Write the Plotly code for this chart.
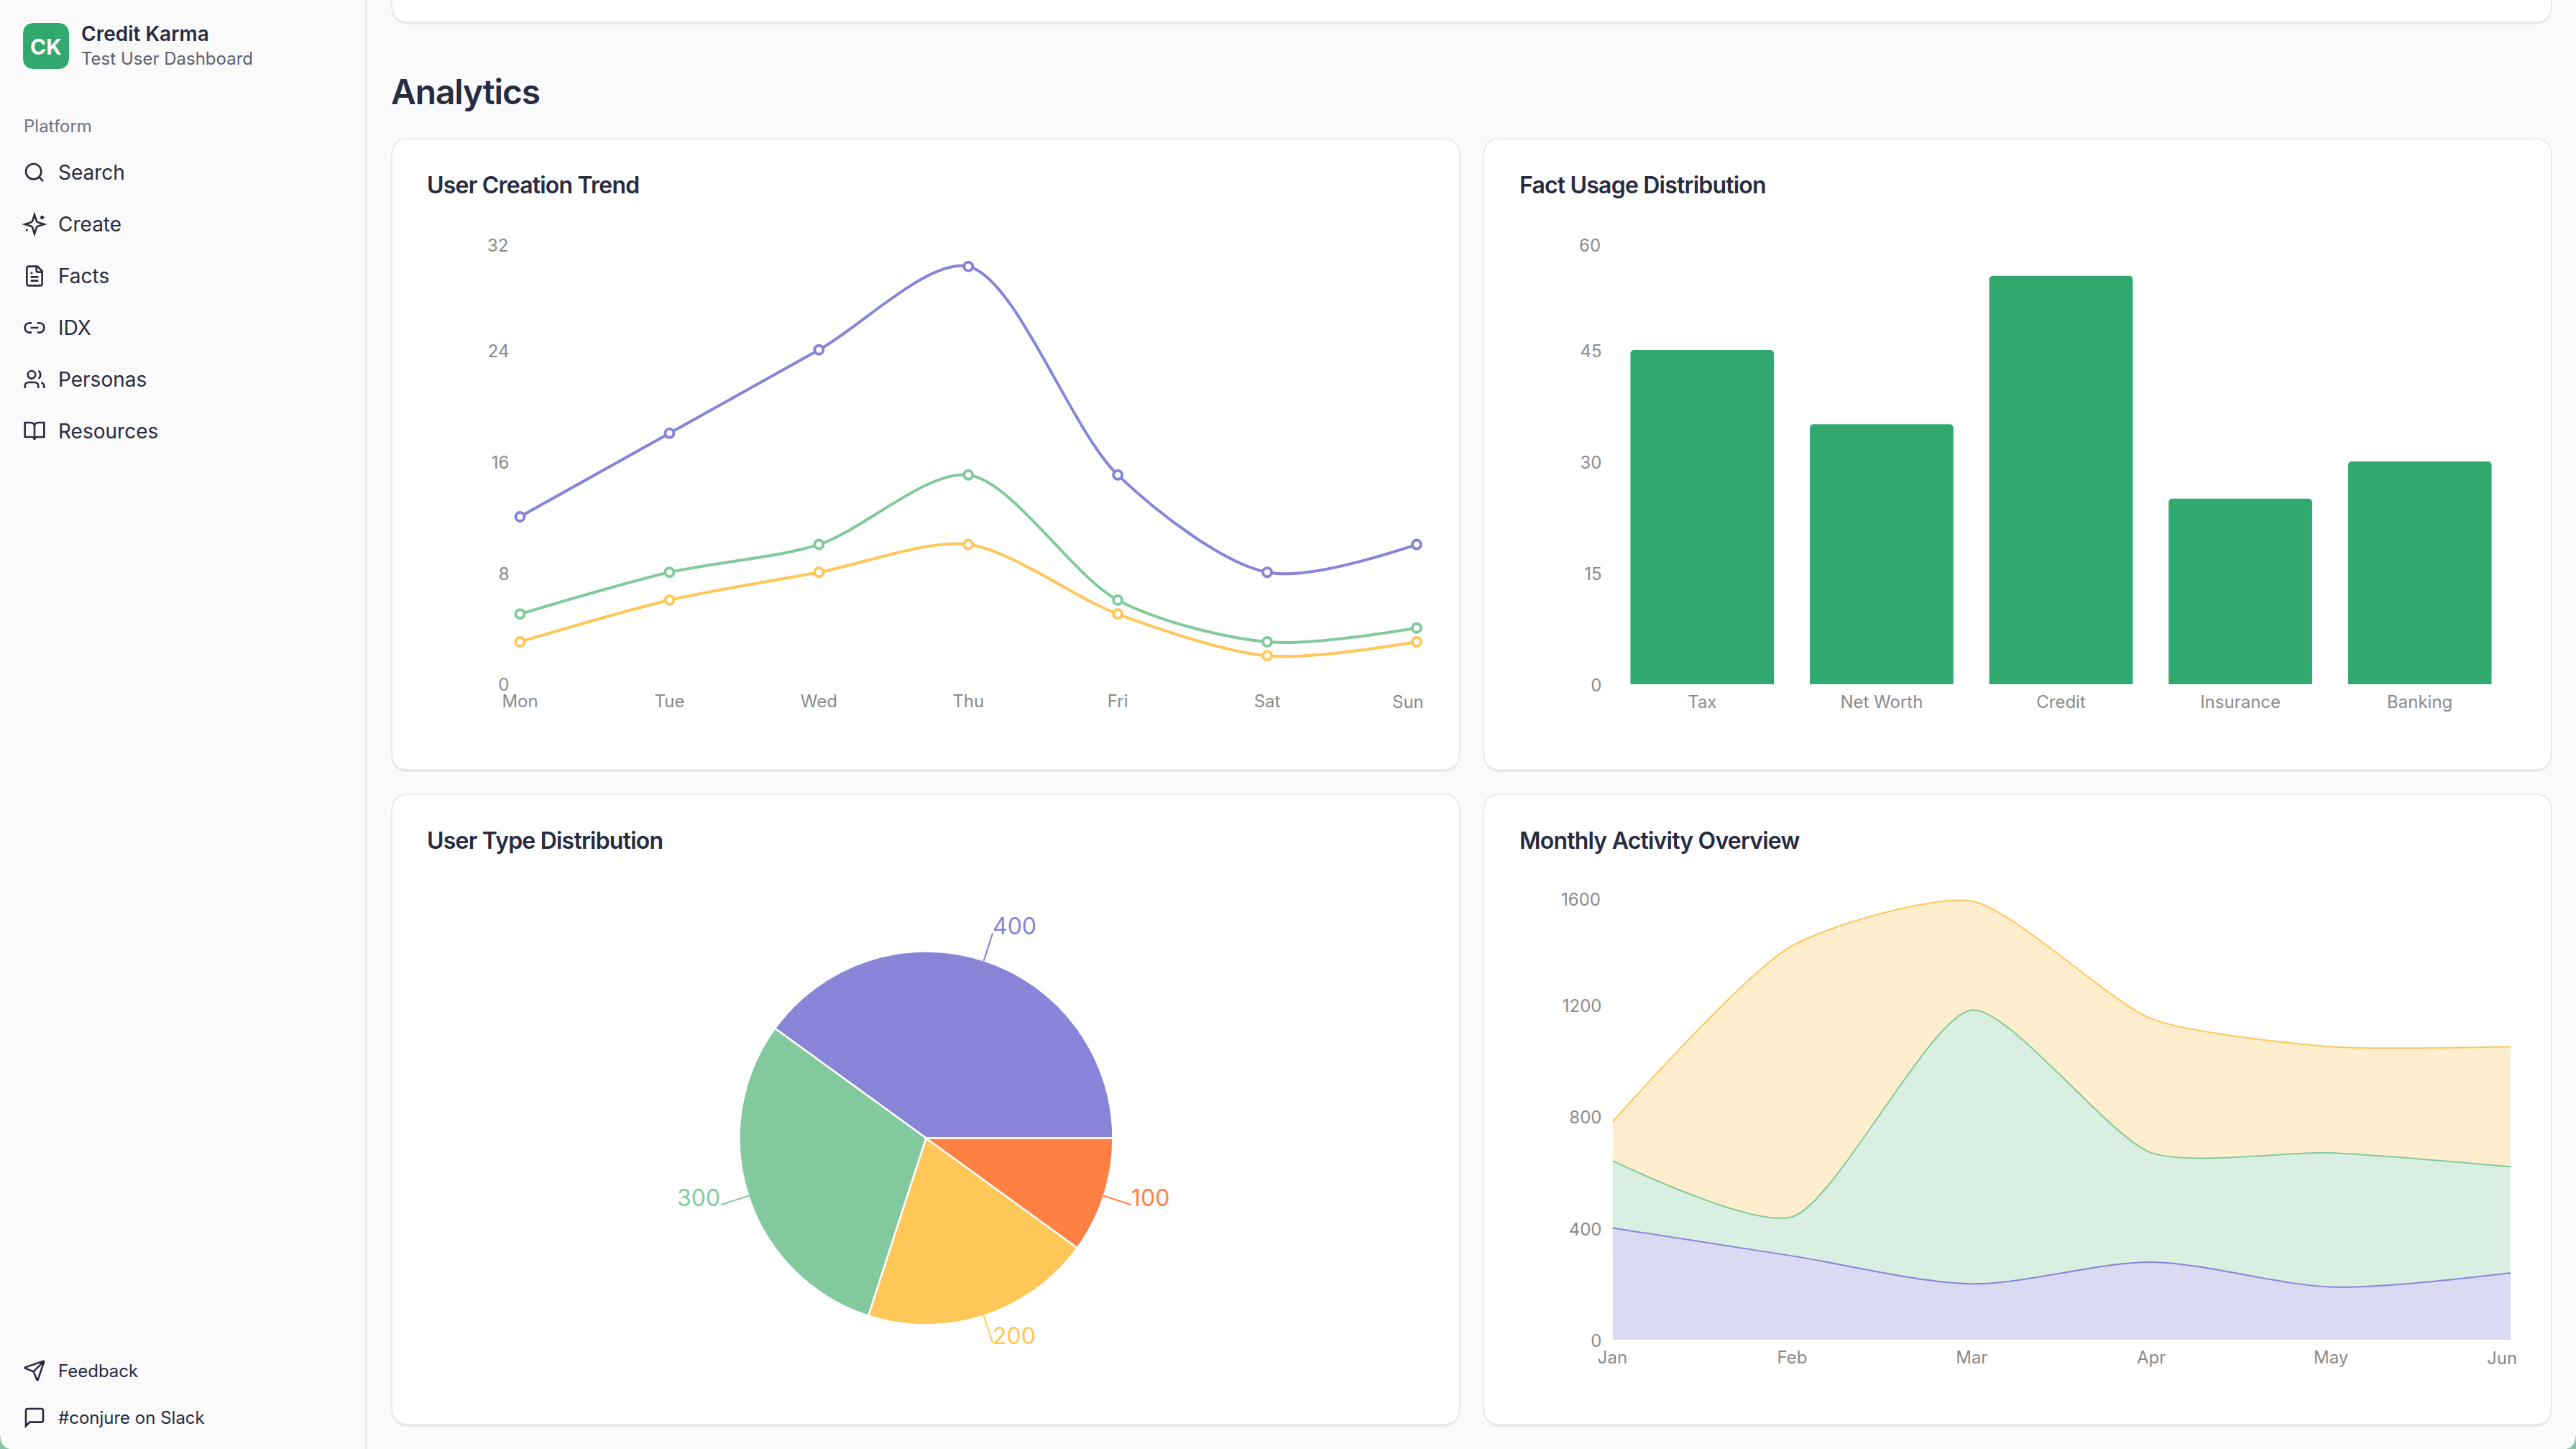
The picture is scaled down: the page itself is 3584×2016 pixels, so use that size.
import re
import math
import plotly.graph_objects as go

W, H = 3584, 2016

# ---- data ----
days = ["Mon", "Tue", "Wed", "Thu", "Fri", "Sat", "Sun"]
trend_a = [12, 18, 24, 30, 15, 8, 10]
trend_b = [5, 8, 10, 15, 6, 3, 4]
trend_c = [3, 6, 8, 10, 5, 2, 3]
trend_ticks = [0, 8, 16, 24, 32]

facts = ["Tax", "Net Worth", "Credit", "Insurance", "Banking"]
fact_values = [45, 35, 55, 25, 30]
fact_ticks = [0, 15, 30, 45, 60]

type_values = [400, 300, 200, 100]
type_colors = ["#8884d8", "#82ca9d", "#ffc658", "#ff8042"]

months = ["Jan", "Feb", "Mar", "Apr", "May", "Jun"]
area_a = [400, 300, 200, 278, 189, 239]
area_b = [240, 140, 980, 391, 480, 380]
area_c = [140, 970, 390, 480, 380, 430]
area_ticks = [0, 400, 800, 1200, 1600]

nav_items = ["Search", "Create", "Facts", "IDX", "Personas", "Resources"]
footer_items = ["Feedback", "#conjure on Slack"]

# ---- palette ----
PAGE = "#F8FAFC"
SIDE = "#FAFAFA"
INK = "#282B40"
TICK = "#8A8A8A"
GREEN = "#31A96E"
FONT = "Inter"
SMOOTH = 0.85

fx = lambda x: x / W
fy = lambda y: 1 - y / H


def to_paper(d, ox=0.0, oy=0.0, s=1.0):
    out, is_x = [], True
    for tok in re.findall(r"[MLCQZ]|-?\d+\.?\d*", d):
        if tok in "MLCQZ":
            out.append(tok)
            is_x = True
        else:
            v = float(tok)
            out.append(f"{fx(ox + v * s):.6f}" if is_x else f"{fy(oy + v * s):.6f}")
            is_x = not is_x
    s_ = ""
    for t in out:
        s_ += (t if t in "MLCQZ" else t + " ")
    return s_


def rrect(x0, y0, x1, y1, r):
    return (f"M{x0 + r} {y0}L{x1 - r} {y0}Q{x1} {y0} {x1} {y0 + r}L{x1} {y1 - r}Q{x1} {y1} {x1 - r} {y1}"
            f"L{x0 + r} {y1}Q{x0} {y1} {x0} {y1 - r}L{x0} {y0 + r}Q{x0} {y0} {x0 + r} {y0}Z")


def circ(cx, cy, r):
    k = 0.5523 * r
    return (f"M{cx + r} {cy}C{cx + r} {cy + k} {cx + k} {cy + r} {cx} {cy + r}"
            f"C{cx - k} {cy + r} {cx - r} {cy + k} {cx - r} {cy}"
            f"C{cx - r} {cy - k} {cx - k} {cy - r} {cx} {cy - r}"
            f"C{cx + k} {cy - r} {cx + r} {cy - k} {cx + r} {cy}Z")


shapes, annos = [], []


def box(x0, y0, x1, y1, r, fill, line=None, lw=0):
    shapes.append(dict(type="path", xref="paper", yref="paper", layer="below",
                       path=to_paper(rrect(x0, y0, x1, y1, r)), fillcolor=fill,
                       line=dict(color=line or fill, width=lw)))


def rect(x0, y0, x1, y1, fill):
    shapes.append(dict(type="rect", xref="paper", yref="paper", layer="below",
                       x0=fx(x0), x1=fx(x1), y0=fy(y0), y1=fy(y1), fillcolor=fill, line=dict(width=0)))


def text(t, x, y, size, color=INK, weight=400, anchor="left"):
    annos.append(dict(text=t, x=fx(x), y=fy(y), xref="paper", yref="paper", xanchor=anchor, yanchor="middle",
                      showarrow=False, borderpad=0,
                      font=dict(family=FONT, size=size, color=color, weight=weight)))


def icon(d, ox, oy):
    shapes.append(dict(type="path", xref="paper", yref="paper", layer="above",
                       path=to_paper(d, ox, oy, 32 / 24), fillcolor="rgba(0,0,0,0)",
                       line=dict(color=INK, width=2.6)))


# page chrome
rect(0, 0, 508, H, SIDE)
rect(508, 0, 511, H, "#E9ECF0")
# rounded window corners at the bottom of the capture
for d in ["M0 1996Q1 2014 14 2016L0 2016Z", "M3584 1996Q3583 2014 3570 2016L3584 2016Z"]:
    shapes.append(dict(type="path", xref="paper", yref="paper", layer="below", path=to_paper(d),
                       fillcolor="#86C4A6", line=dict(width=0)))


def card(x0, y0, x1, y1):
    box(x0, y0 + 3, x1, y1 + 3, 24, "#E6E9F0")
    box(x0, y0, x1, y1, 24, "#FFFFFF", "#E8EAEE", 2)


card(545, -60, 3550, 31)
card(545, 193, 2031, 1071)
card(2064, 193, 3550, 1071)
card(545, 1105, 2031, 1982)
card(2064, 1105, 3550, 1982)

# sidebar
box(32, 32, 96, 96, 16, GREEN)
text("CK", 64, 64.5, 30, "#FFFFFF", 700, "center")
text("Credit Karma", 112, 47.5, 28, INK, 600)
text("Test User Dashboard", 112, 81.5, 24, "#5B5F73", 400)
text("Platform", 32, 175, 24, "#6F7380", 400)
nav_y = [240, 312, 384, 456, 528, 600]
for label, y in zip(nav_items, nav_y):
    text(label, 80, y, 28, INK, 400)
for label, y in zip(footer_items, [1907, 1972]):
    text(label, 80, y, 24, INK, 400)

icons = [
    circ(11, 11, 8) + "M21 21L16.7 16.7",
    "M12 2L14.06 8.5Q14.5 9.5 15.5 9.94L22 12L15.5 14.06Q14.5 14.5 14.06 15.5L12 22L9.94 15.5Q9.5 14.5 8.5 14.06"
    "L2 12L8.5 9.94Q9.5 9.5 9.94 8.5ZM20 3L20 7M22 5L18 5M4 17L4 19M5 18L3 18",
    "M15 2L6 2Q4 2 4 4L4 20Q4 22 6 22L18 22Q20 22 20 20L20 7ZM14 2L14 6Q14 8 16 8L20 8M10 9L8 9M16 13L8 13M16 17L8 17",
    "M9 17L7 17C0.3 17 0.3 7 7 7L9 7M15 7L17 7C23.7 7 23.7 17 17 17L15 17M8 12L16 12",
    "M16 21L16 19Q16 15 12 15L6 15Q2 15 2 19L2 21" + circ(9, 7, 4) +
    "M22 21L22 19Q22 16.5 19 15.13M16 3.13C18.8 3.9 18.8 10.1 16 10.88",
    "M2 3L8 3Q12 3 12 7L12 21Q12 18 9 18L2 18ZM22 3L16 3Q12 3 12 7L12 21Q12 18 15 18L22 18Z",
]
for d, y in zip(icons, nav_y):
    icon(d, 32, y - 16)
icon("M14.54 21.69Q15.2 22.1 15.47 21.66L21.97 2.66Q22.1 1.9 21.34 2.03L2.34 8.53Q1.9 8.8 2.31 9.47L10.24 12.65"
     "Q11 13 11.35 13.76ZM21.85 2.15L10.91 13.09", 32, 1891)
icon("M21 15Q21 17 19 17L7 17L3 21L3 5Q3 3 5 3L19 3Q21 3 21 5Z", 32, 1956)

# headings
tight_big = ["Analytics"]
tight = ["User Creation Trend", "Fact Usage Distribution", "User Type Distribution", "Monthly Activity Overview"]
text(tight_big[0], 543, 127, 48, INK, 600)
text(tight[0], 593, 257, 32, INK, 600)
text(tight[1], 2113, 257, 32, INK, 600)
text(tight[2], 593, 1169, 32, INK, 600)
text(tight[3], 2113, 1169, 32, INK, 600)

fig = go.Figure()

# chart 1: trend lines
for vals, col in zip([trend_a, trend_b, trend_c], type_colors):
    fig.add_trace(go.Scatter(x=days, y=vals, mode="lines+markers", xaxis="x", yaxis="y",
                             line=dict(color=col, width=4, shape="spline", smoothing=SMOOTH),
                             marker=dict(color="#FFFFFF", size=12, line=dict(color=col, width=4)),
                             cliponaxis=False))

# chart 2: bars
fig.add_trace(go.Bar(x=facts, y=fact_values, xaxis="x2", yaxis="y2",
                     marker=dict(color=GREEN, cornerradius=5, line=dict(width=0))))

# chart 3: pie
cx3, cy3, r3 = 1288.5, 1583.5, 260
fig.add_trace(go.Pie(values=type_values, sort=False, direction="counterclockwise", rotation=-54,
                     textinfo="none", hoverinfo="value",
                     domain=dict(x=[fx(cx3 - r3), fx(cx3 + r3)], y=[fy(cy3 + r3), fy(cy3 - r3)]),
                     marker=dict(colors=type_colors, line=dict(color="#FFFFFF", width=2.5))))

# pie value labels and leader lines
total = sum(type_values)
start = 0.0
for v, col in zip(type_values, type_colors):
    mid = start + v / total * 180.0
    start += v / total * 360.0
    ca, sa = math.cos(math.radians(mid)), math.sin(math.radians(mid))
    x1, y1 = cx3 + (r3 - 1) * ca, cy3 - (r3 - 1) * sa
    x2, y2 = cx3 + (r3 + 40) * ca, cy3 - (r3 + 40) * sa
    shapes.append(dict(type="line", xref="paper", yref="paper", x0=fx(x1), y0=fy(y1), x1=fx(x2), y1=fy(y2),
                       line=dict(color=col, width=2)))
    text(str(v), x2 + (-1 if ca > 0 else 0), y2 - 10, 32, col, 400, "left" if ca > 0 else "right")

# chart 4: stacked areas
for vals, col, fill, sm in zip([area_a, area_b, area_c], type_colors,
                               ["rgba(136,132,216,0.3)", "rgba(130,202,157,0.3)", "rgba(255,198,88,0.3)"],
                               [SMOOTH, 0.65, 0.65]):
    fig.add_trace(go.Scatter(x=months, y=vals, mode="lines", stackgroup="s", xaxis="x4", yaxis="y4",
                             fillcolor=fill, line=dict(color=col, width=2, shape="spline", smoothing=sm),
                             cliponaxis=False))


def xaxis(domain, cats, anchor, rng, shift_last=None):
    labels = list(cats)
    if shift_last:
        annos.append(dict(text=labels[-1], x=len(cats) - 1, y=0, xref=shift_last[0],
                          yref=anchor, xanchor="center", yanchor="middle", xshift=shift_last[1], yshift=-25.5,
                          showarrow=False, borderpad=0, font=dict(family=FONT, size=24, color=TICK)))
        labels[-1] = ""
    return dict(domain=[fx(domain[0]), fx(domain[1])], anchor=anchor, type="category", range=rng, automargin=False,
                categoryorder="array", categoryarray=list(cats), tickmode="array", tickvals=list(cats), ticktext=labels,
                showgrid=False, zeroline=False, showline=False, ticks="", ticklabelstandoff=8,
                tickfont=dict(family=FONT, size=24, color=TICK), tickangle=0)


def yaxis(domain, ticks, anchor, x_anchor):
    labels = [str(t) for t in ticks]
    annos.append(dict(text=labels[-1], x=0, y=ticks[-1], xref=f"{x_anchor} domain", yref=anchor, xanchor="right",
                      yanchor="middle", xshift=-16, yshift=-9.5, showarrow=False, borderpad=0,
                      font=dict(family=FONT, size=24, color=TICK)))
    labels[-1] = ""
    return dict(domain=[fy(domain[1]), fy(domain[0])], anchor=x_anchor, range=[0, ticks[-1]], tickmode="array",
                automargin=False, tickvals=ticks, ticktext=labels, showgrid=False, zeroline=False, showline=False,
                ticks="", ticklabelstandoff=14, ticklabelshift=2, tickfont=dict(family=FONT, size=24, color=TICK))


fig.update_layout(
    template="none",
    width=W, height=H, autosize=False, margin=dict(l=0, r=0, t=0, b=0, pad=0),
    paper_bgcolor=PAGE, plot_bgcolor="rgba(0,0,0,0)", showlegend=False, bargap=0.2,
    font=dict(family=FONT, size=24, color=TICK),
    xaxis=xaxis((723.5, 1971), days, "y", [0, 6], ("x", -12)),
    yaxis=yaxis((332, 951), trend_ticks, "y", "x"),
    xaxis2=xaxis((2243.5, 3491.5), facts, "y2", [-0.5, 4.5]),
    yaxis2=yaxis((332, 952), fact_ticks, "y2", "x2"),
    xaxis4=xaxis((2243.5, 3493), months, "y4", [0, 5], ("x4", -12)),
    yaxis4=yaxis((1242, 1864), area_ticks, "y4", "x4"),
    shapes=shapes, annotations=annos,
)

script = """
document.body.style.margin='0';
document.body.style.background='%s';
var spacing={'Analytics':'-1.2px','User Creation Trend':'-0.8px','Fact Usage Distribution':'-0.8px',
 'User Type Distribution':'-0.8px','Monthly Activity Overview':'-0.8px'};
document.querySelectorAll('.annotation-text').forEach(function(el){
  var ls=spacing[el.textContent]; if(!ls) return;
  var a=el.getBoundingClientRect().left; el.style.letterSpacing=ls;
  var b=el.getBoundingClientRect().left;
  el.setAttribute('x', parseFloat(el.getAttribute('x'))+a-b);
});
""" % PAGE

fig.write_html("out.html", config=dict(displayModeBar=False), post_script=script)
